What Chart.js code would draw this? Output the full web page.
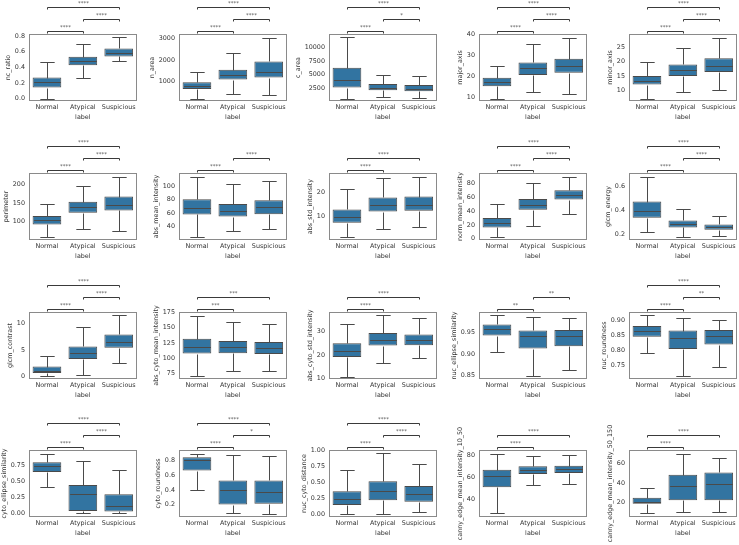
<!DOCTYPE html>
<html>
<head>
<meta charset="utf-8">
<script src="https://cdn.jsdelivr.net/npm/chart.js@4.4.0/dist/chart.umd.min.js"></script>
<style>
  body { margin: 0; background: #fff; width: 739px; height: 545px; overflow: hidden; position: relative; }
  canvas { position: absolute; }
</style>
</head>
<body>
<script>
// categories and one feature per panel
const groups = ['Normal', 'Atypical', 'Suspicious'];
const features = [
  'nc_ratio', 'n_area', 'c_area', 'major_axis', 'minor_axis',
  'perimeter', 'abs_mean_intensity', 'abs_std_intensity', 'norm_mean_intensity', 'glcm_energy',
  'glcm_contrast', 'abs_cyto_mean_intensity', 'abs_cyto_std_intensity', 'nuc_ellipse_similarity', 'nuc_roundness',
  'cyto_ellipse_similarity', 'cyto_roundness', 'nuc_cyto_distance', 'canny_edge_mean_intensity_10_50', 'canny_edge_mean_intensity_50_150'
];

// box stats per feature: [Normal, Atypical, Suspicious]
const whiskerLow = [
  [0.0, 0.265, 0.475], [203, 406, 391], [685, 1048, 806], [9.2, 12.4, 11.5], [7.2, 9.4, 10.2],
  [60.2, 81.4, 74.3], [24.8, 33.6, 36.1], [1.4, 4.4, 5.3], [2.9, 17.8, 36.1], [0.217, 0.175, 0.186],
  [0.06, 0.32, 2.66], [71.2, 78.8, 79.8], [10.7, 16.4, 18.7], [0.905, 0.848, 0.863], [0.791, 0.712, 0.742],
  [0.419, 0.0, 0.0], [0.404, 0.093, 0.08], [0.005, 0.005, 0.026], [26.8, 52.3, 53.5], [9.2, 10.5, 10.8]
];
const q1 = [
  [0.141, 0.428, 0.539], [656, 1094, 1188], [2682, 2198, 2016], [15.2, 20.6, 21.6], [12.1, 15.1, 16.5],
  [92.9, 123.9, 130], [57.7, 54.7, 58.2], [7.2, 11.9, 12.2], [16.4, 41.9, 56.9], [0.335, 0.255, 0.236],
  [0.70, 3.35, 5.44], [107.8, 108.3, 107.3], [19.1, 24.0, 24.1], [0.943, 0.913, 0.918], [0.844, 0.803, 0.818],
  [0.647, 0.036, 0.031], [0.662, 0.204, 0.213], [0.141, 0.219, 0.193], [50.5, 62.6, 63.5], [19.0, 22.7, 22.7]
];
const median = [
  [0.21, 0.479, 0.586], [813, 1313, 1469], [4134, 2682, 2500], [17.4, 23.7, 24.7], [13.5, 17.0, 18.5],
  [104.4, 138, 145], [68, 63.6, 68.5], [9.6, 14.7, 14.7], [22.2, 49.6, 63.1], [0.388, 0.280, 0.258],
  [1.14, 4.49, 6.58], [118.5, 118.5, 116.4], [21.7, 26.4, 26.4], [0.959, 0.941, 0.943], [0.865, 0.841, 0.848],
  [0.740, 0.305, 0.119], [0.80, 0.396, 0.378], [0.234, 0.359, 0.318], [60.5, 66.2, 67.1], [21.0, 37.3, 39.3]
];
const q3 = [
  [0.27, 0.535, 0.642], [969, 1547, 1938], [6251, 3347, 3166], [19.2, 26.6, 28.4], [15.1, 19.1, 21.2],
  [115, 153, 167.3], [80.3, 73.4, 78.8], [12.8, 17.8, 18.2], [29.9, 57.8, 70.4], [0.470, 0.313, 0.280],
  [1.90, 5.70, 7.97], [132, 128.2, 126.6], [25.0, 29.3, 28.7], [0.969, 0.955, 0.956], [0.880, 0.865, 0.867],
  [0.802, 0.445, 0.300], [0.840, 0.529, 0.529], [0.359, 0.516, 0.443], [66.5, 69.8, 70.1], [25.1, 48.8, 51.2]
];
const whiskerHigh = [
  [0.462, 0.70, 0.783], [1469, 2328, 3047], [11757, 5041, 4860], [25.0, 35.3, 38.5], [20.0, 24.9, 28.4],
  [147.8, 195.6, 219.5], [113.7, 102.9, 107.3], [21.5, 26.0, 26.5], [51.1, 81.4, 89.6], [0.677, 0.412, 0.346],
  [3.86, 9.37, 11.65], [169.6, 158.9, 155.6], [33.3, 37.1, 35.7], [0.992, 0.986, 0.984], [0.918, 0.908, 0.900],
  [0.931, 0.817, 0.673], [0.884, 0.867, 0.862], [0.688, 0.958, 0.786], [81.2, 79.4, 80.0], [35.3, 70.5, 66.4]
];

// y axis range and ticks
const yMin = [-0.03, 94, 260, 8.06, 6.4, 51.3, 19.9, 0, -1.9, 0.150, -0.44, 66.4, 9.7, 0.842, 0.703, -0.057, 0.036, -0.047, 23.5, 5.4];
const yMax = [0.826, 3219, 12360, 40.3, 29.65, 230, 119.2, 28.06, 95.4, 0.708, 12.2, 175.5, 38.3, 0.998, 0.927, 0.993, 0.938, 1.01, 84.5, 74.2];
const yTickLabels = [
  ['0.0', '0.2', '0.4', '0.6', '0.8'], ['1000', '2000', '3000'], ['2500', '5000', '7500', '10000'], ['10', '20', '30', '40'], ['10', '15', '20', '25'],
  ['100', '150', '200'], ['40', '60', '80', '100'], ['10', '20'], ['0', '20', '40', '60', '80'], ['0.2', '0.4', '0.6'],
  ['0', '5', '10'], ['75', '100', '125', '150', '175'], ['10', '20', '30'], ['0.85', '0.90', '0.95'], ['0.75', '0.80', '0.85', '0.90'],
  ['0.00', '0.25', '0.50', '0.75'], ['0.2', '0.4', '0.6', '0.8'], ['0.00', '0.25', '0.50', '0.75', '1.00'], ['40', '60', '80'], ['20', '40', '60']
];

// significance brackets: [from, to, level, stars]
const ALL3 = [[0, 1, 1, '****'], [1, 2, 2, '****'], [0, 2, 3, '****']];
const pairs = [
  ALL3, ALL3, [[0, 1, 1, '****'], [1, 2, 2, '*'], [0, 2, 3, '****']], ALL3, ALL3,
  ALL3, [[0, 1, 1, '****'], [1, 2, 2, '****']], [[0, 1, 1, '****'], [0, 2, 2, '****']], ALL3, ALL3,
  ALL3, [[0, 1, 1, '***'], [0, 2, 2, '***']], [[0, 1, 1, '****'], [0, 2, 2, '****']], [[0, 1, 1, '**'], [1, 2, 2, '**']], [[0, 1, 1, '****'], [1, 2, 2, '**'], [0, 2, 3, '****']],
  ALL3, [[0, 1, 1, '****'], [1, 2, 2, '*'], [0, 2, 3, '****']], ALL3, [[0, 1, 1, '****'], [0, 2, 2, '****']], [[0, 1, 1, '****'], [0, 2, 2, '****']]
];

const FONT = 'DejaVu Sans';
const FS = 6.4;
const TEXT = '#333333';
const LINE = '#4a4a4a';
const BOX = '#3274a1';
const CW = 151, CH = 139;
const AXIS_W = 41, AXIS_H = 38;
const rowTops = [0, 139, 278, 416];

const measure = document.createElement('canvas').getContext('2d');
measure.font = FS + 'px "' + FONT + '"';

const boxExtras = {
  id: 'boxExtras',
  afterDatasetsDraw(chart, args, opts) {
    const k = opts.index;
    const { ctx, scales: { x, y } } = chart;
    const half = x.width / 3 * 0.8 / 2;
    const py = v => Math.round(y.getPixelForValue(v)) + 0.5;
    ctx.save();
    ctx.strokeStyle = LINE;
    ctx.lineWidth = 1;
    groups.forEach((g, i) => {
      const cx = Math.round(x.getPixelForValue(i)) + 0.5;
      const seg = (x1, y1, x2, y2) => { ctx.beginPath(); ctx.moveTo(x1, y1); ctx.lineTo(x2, y2); ctx.stroke(); };
      seg(cx, py(q3[k][i]), cx, py(whiskerHigh[k][i]));
      seg(cx, py(q1[k][i]), cx, py(whiskerLow[k][i]));
      seg(cx - half / 2, py(whiskerHigh[k][i]), cx + half / 2, py(whiskerHigh[k][i]));
      seg(cx - half / 2, py(whiskerLow[k][i]), cx + half / 2, py(whiskerLow[k][i]));
      seg(cx - half + 1, py(median[k][i]), cx + half - 1, py(median[k][i]));
    });
    ctx.restore();
  },
  afterDraw(chart, args, opts) {
    const k = opts.index;
    const { ctx, chartArea: a, scales: { x } } = chart;
    ctx.save();
    // axes frame
    ctx.strokeStyle = '#8a8a8a';
    ctx.lineWidth = 1;
    ctx.strokeRect(Math.round(a.left) + 0.5, Math.round(a.top) + 0.5, Math.round(a.right - a.left) - 1, Math.round(a.bottom - a.top) - 1);
    // brackets
    ctx.strokeStyle = '#3a3a3a';
    ctx.fillStyle = '#555';
    ctx.font = '5.4px "' + FONT + '"';
    ctx.textAlign = 'center';
    ctx.textBaseline = 'alphabetic';
    const top = Math.round(a.top);
    pairs[k].forEach(([p, q, lvl, txt]) => {
      const yy = top - 3 - (lvl - 1) * 12 + 0.5;
      const x1 = Math.round(x.getPixelForValue(p)) + 0.5;
      const x2 = Math.round(x.getPixelForValue(q)) + 0.5;
      ctx.beginPath();
      ctx.moveTo(x1, yy + 2);
      ctx.lineTo(x1, yy);
      ctx.lineTo(x2, yy);
      ctx.lineTo(x2, yy + 2);
      ctx.stroke();
      ctx.fillText(txt, (x1 + x2) / 2, yy - 2.5);
    });
    ctx.restore();
  }
};

features.forEach((name, k) => {
  const row = Math.floor(k / 5), col = k % 5;
  const canvas = document.createElement('canvas');
  canvas.width = CW;
  canvas.height = CH;
  canvas.style.left = (col * 150 - 12) + 'px';
  canvas.style.top = rowTops[row] + 'px';
  document.body.appendChild(canvas);

  const labels = yTickLabels[k];
  const tickVals = labels.map(Number);
  const maxW = Math.max(...labels.map(s => measure.measureText(s).width));
  const lh = FS * 1.2;
  const titlePad = Math.max(0, AXIS_W - maxW - 4 - 2.5 - lh);

  new Chart(canvas, {
    type: 'bar',
    data: {
      labels: groups,
      datasets: [{
        data: q1[k].map((v, i) => [v, q3[k][i]]),
        backgroundColor: BOX,
        borderColor: LINE,
        borderWidth: 1,
        borderSkipped: false,
        barPercentage: 0.8,
        categoryPercentage: 1.0
      }]
    },
    options: {
      responsive: false,
      animation: false,
      events: [],
      layout: { padding: { top: 34, right: 2, left: 0, bottom: 0 } },
      plugins: {
        legend: { display: false },
        tooltip: { enabled: false },
        boxExtras: { index: k }
      },
      scales: {
        x: {
          grid: { display: false, drawTicks: false },
          border: { display: false },
          ticks: { color: TEXT, font: { family: FONT, size: FS }, padding: 3, maxRotation: 0, autoSkip: false },
          title: { display: true, text: 'label', color: TEXT, font: { family: FONT, size: FS }, padding: { top: 0, bottom: 18 } },
          afterFit(scale) { scale.height = AXIS_H; }
        },
        y: {
          min: yMin[k],
          max: yMax[k],
          grid: { display: false, drawTicks: false },
          border: { display: false },
          afterBuildTicks(scale) { scale.ticks = tickVals.map(v => ({ value: v })); },
          ticks: {
            color: TEXT,
            font: { family: FONT, size: FS },
            padding: 4,
            callback: (v, i) => labels[i]
          },
          title: { display: true, text: name, color: TEXT, font: { family: FONT, size: FS }, padding: { top: titlePad, bottom: 0 } },
          afterFit(scale) { scale.width = AXIS_W; }
        }
      }
    },
    plugins: [boxExtras]
  });
});
</script>
</body>
</html>
